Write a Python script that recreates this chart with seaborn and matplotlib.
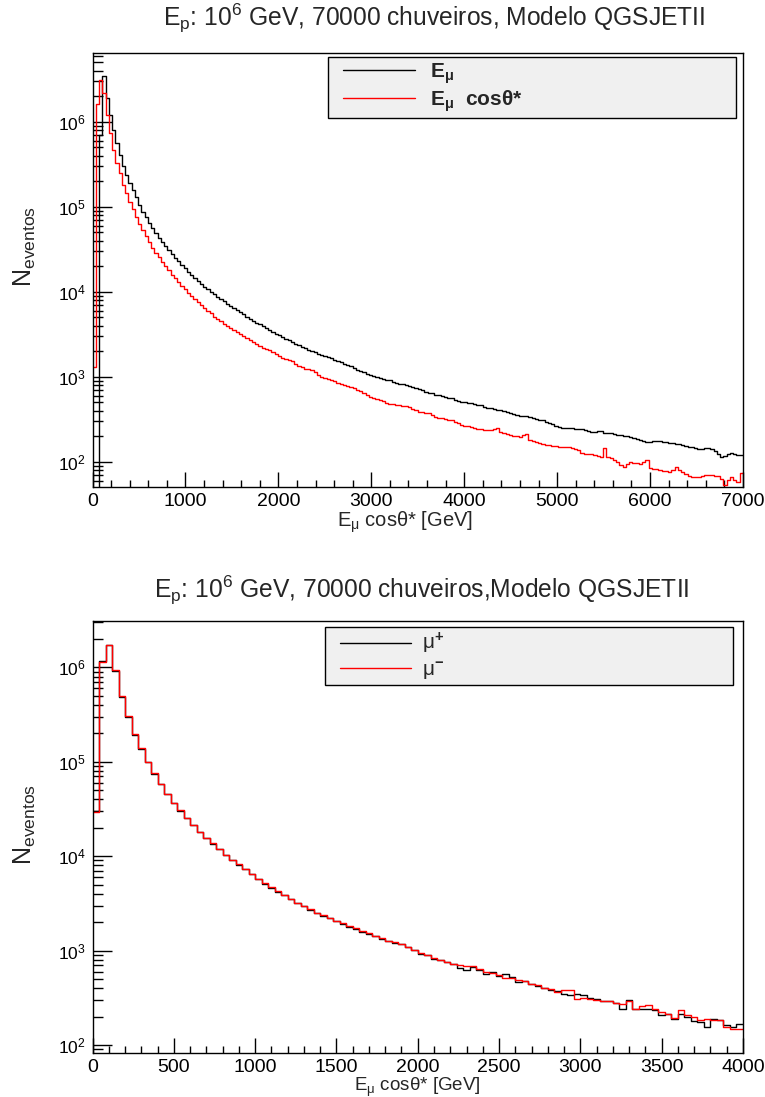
import numpy as np
import pandas as pd
import matplotlib
matplotlib.use("Agg")
import matplotlib.pyplot as plt
from matplotlib.lines import Line2D
from matplotlib.legend_handler import HandlerLine2D
from matplotlib.ticker import MultipleLocator, LogLocator, NullFormatter
import seaborn as sns

# ---------------- data (log10 of counts per bin) ----------------
top_range_gev = [0, 7000]
top_nbins = 200
top_log_emu = [
    1.0, 1.0, 5.843, 6.541, 6.282, 6.079, 5.902, 5.746, 5.608, 5.479,
    5.373, 5.282, 5.196, 5.111, 5.020, 4.941, 4.882, 4.812, 4.746, 4.694,
    4.635, 4.588, 4.541, 4.491, 4.444, 4.400, 4.358, 4.314, 4.275, 4.235,
    4.196, 4.158, 4.126, 4.091, 4.059, 4.028, 4.000, 3.969, 3.934, 3.911,
    3.887, 3.859, 3.832, 3.812, 3.785, 3.758, 3.734, 3.706, 3.675, 3.655,
    3.632, 3.615, 3.596, 3.575, 3.552, 3.530, 3.508, 3.487, 3.468, 3.447,
    3.428, 3.407, 3.390, 3.368, 3.352, 3.335, 3.318, 3.303, 3.290, 3.270,
    3.256, 3.245, 3.228, 3.218, 3.200, 3.184, 3.170, 3.152, 3.138, 3.121,
    3.100, 3.082, 3.062, 3.050, 3.032, 3.024, 3.010, 2.995, 2.984, 2.975,
    2.962, 2.958, 2.942, 2.930, 2.918, 2.912, 2.898, 2.886, 2.880, 2.862,
    2.850, 2.842, 2.822, 2.812, 2.806, 2.790, 2.780, 2.770, 2.766, 2.748,
    2.746, 2.730, 2.712, 2.706, 2.700, 2.690, 2.688, 2.676, 2.672, 2.665,
    2.645, 2.636, 2.630, 2.620, 2.612, 2.607, 2.598, 2.586, 2.578, 2.562,
    2.550, 2.540, 2.532, 2.540, 2.528, 2.516, 2.500, 2.492, 2.488, 2.470,
    2.460, 2.440, 2.425, 2.406, 2.400, 2.398, 2.394, 2.392, 2.385, 2.380,
    2.382, 2.368, 2.360, 2.352, 2.350, 2.360, 2.366, 2.340, 2.336, 2.334,
    2.325, 2.318, 2.314, 2.305, 2.300, 2.294, 2.280, 2.262, 2.255, 2.248,
    2.236, 2.235, 2.240, 2.248, 2.246, 2.232, 2.228, 2.224, 2.220, 2.212,
    2.208, 2.200, 2.186, 2.176, 2.168, 2.155, 2.146, 2.150, 2.160, 2.158,
    2.150, 2.120, 2.090, 2.059, 2.070, 2.095, 2.099, 2.085, 2.080, 2.079,
]
top_log_emu_cos = [
    3.110, 6.205, 6.491, 6.334, 6.079, 5.863, 5.667, 5.511, 5.393, 5.255,
    5.157, 5.059, 4.969, 4.882, 4.793, 4.726, 4.655, 4.588, 4.518, 4.459,
    4.412, 4.353, 4.302, 4.255, 4.196, 4.158, 4.118, 4.067, 4.028, 3.988,
    3.949, 3.914, 3.875, 3.843, 3.804, 3.776, 3.746, 3.706, 3.675, 3.650,
    3.625, 3.598, 3.575, 3.550, 3.522, 3.500, 3.476, 3.452, 3.436, 3.410,
    3.385, 3.360, 3.342, 3.325, 3.310, 3.285, 3.262, 3.240, 3.222, 3.208,
    3.192, 3.180, 3.150, 3.125, 3.110, 3.095, 3.085, 3.075, 3.050, 3.020,
    3.002, 2.985, 2.972, 2.962, 2.945, 2.930, 2.915, 2.905, 2.895, 2.882,
    2.865, 2.845, 2.828, 2.806, 2.785, 2.766, 2.752, 2.740, 2.726, 2.710,
    2.692, 2.680, 2.676, 2.672, 2.667, 2.660, 2.650, 2.640, 2.622, 2.605,
    2.590, 2.582, 2.576, 2.570, 2.548, 2.530, 2.512, 2.508, 2.500, 2.494,
    2.490, 2.470, 2.450, 2.432, 2.425, 2.418, 2.412, 2.400, 2.390, 2.382,
    2.378, 2.375, 2.373, 2.382, 2.393, 2.355, 2.340, 2.326, 2.314, 2.305,
    2.298, 2.294, 2.310, 2.322, 2.258, 2.244, 2.230, 2.218, 2.210, 2.202,
    2.196, 2.190, 2.184, 2.176, 2.172, 2.170, 2.169, 2.160, 2.150, 2.138,
    2.100, 2.096, 2.092, 2.090, 2.080, 2.068, 2.060, 2.158, 2.060, 2.040,
    2.020, 1.995, 1.965, 1.942, 1.970, 2.000, 1.990, 1.980, 1.972, 2.000,
    2.020, 1.925, 1.918, 1.910, 1.902, 1.895, 1.888, 1.882, 1.900, 1.941,
    1.905, 1.880, 1.850, 1.826, 1.824, 1.825, 1.824, 1.830, 1.840, 1.843,
    1.840, 1.835, 1.831, 1.800, 1.726, 1.790, 1.824, 1.790, 1.760, 1.863,
]

bot_range_gev = [0, 4000]
bot_nbins = 100
bot_log_mu_plus = [
    4.477, 6.067, 6.237, 5.965, 5.689, 5.477, 5.286, 5.138, 4.996, 4.873,
    4.763, 4.657, 4.565, 4.481, 4.399, 4.329, 4.254, 4.191, 4.131, 4.071,
    4.011, 3.958, 3.908, 3.859, 3.806, 3.756, 3.710, 3.668, 3.625, 3.587,
    3.544, 3.505, 3.470, 3.435, 3.399, 3.371, 3.343, 3.311, 3.283, 3.254,
    3.230, 3.201, 3.177, 3.152, 3.124, 3.099, 3.085, 3.067, 3.039, 3.004,
    2.968, 2.951, 2.915, 2.905, 2.880, 2.855, 2.816, 2.792, 2.827, 2.792,
    2.749, 2.774, 2.728, 2.749, 2.721, 2.668, 2.678, 2.650, 2.622, 2.604,
    2.585, 2.572, 2.544, 2.527, 2.537, 2.527, 2.502, 2.488, 2.466, 2.466,
    2.445, 2.385, 2.473, 2.385, 2.385, 2.385, 2.375, 2.314, 2.332, 2.279,
    2.325, 2.297, 2.254, 2.244, 2.191, 2.279, 2.269, 2.208, 2.191, 2.219,
]
bot_log_mu_minus = [
    4.470, 6.062, 6.240, 5.968, 5.692, 5.480, 5.289, 5.141, 4.999, 4.876,
    4.766, 4.660, 4.568, 4.484, 4.402, 4.333, 4.258, 4.195, 4.135, 4.075,
    4.015, 3.962, 3.912, 3.863, 3.810, 3.760, 3.714, 3.672, 3.629, 3.591,
    3.548, 3.509, 3.474, 3.439, 3.403, 3.375, 3.347, 3.315, 3.287, 3.258,
    3.234, 3.205, 3.181, 3.156, 3.128, 3.103, 3.089, 3.071, 3.043, 3.008,
    2.979, 2.951, 2.926, 2.905, 2.880, 2.855, 2.845, 2.837, 2.837, 2.809,
    2.774, 2.767, 2.739, 2.714, 2.707, 2.686, 2.678, 2.650, 2.633, 2.608,
    2.590, 2.562, 2.580, 2.587, 2.491, 2.498, 2.491, 2.481, 2.466, 2.466,
    2.445, 2.438, 2.466, 2.385, 2.410, 2.428, 2.385, 2.350, 2.332, 2.286,
    2.367, 2.314, 2.297, 2.261, 2.272, 2.269, 2.269, 2.191, 2.173, 2.173,
]

top_title = r"E$_\mathregular{p}$: 10$^\mathregular{6}$ GeV, 70000 chuveiros, Modelo QGSJETII"
bot_title = r"E$_\mathregular{p}$: 10$^\mathregular{6}$ GeV, 70000 chuveiros,Modelo QGSJETII"
x_label = r"E$_\mathregular{μ}$ cosθ* [GeV]"
y_label = r"N$_\mathregular{eventos}$"
top_legend_labels = [r"$\mathbf{E}_\mathregular{μ}$", r"$\mathbf{E}_\mathregular{μ}$  cosθ*"]
bot_legend_labels = [r"μ$^\mathbf{+}$", r"μ$^\mathbf{-}$"]

# ---------------- style ----------------
sns.set_style("ticks")
plt.rcParams.update({
    "font.family": ["Liberation Sans", "DejaVu Sans"],
    "mathtext.fontset": "custom",
    "mathtext.rm": "Liberation Sans",
    "mathtext.it": "Liberation Sans",
    "mathtext.bf": "Liberation Sans:bold",
    "axes.linewidth": 1.0,
    "axes.edgecolor": "black",
})

W, H = 765, 1097
fig = plt.figure(figsize=(W / 100, H / 100), dpi=100)
fig.patch.set_facecolor("white")


def fx(px):
    return px / W


def fy(py):
    return 1 - py / H


ax1 = fig.add_axes([fx(92.5), fy(487), fx(743) - fx(92.5), fy(52.7) - fy(487)])
ax2 = fig.add_axes([fx(92.5), fy(1053), fx(743) - fx(92.5), fy(621) - fy(1053)])


def draw_hist(ax, lo, hi, nb, logvals, color):
    width = (hi - lo) / nb
    centers = lo + width * (np.arange(nb) + 0.5)
    df = pd.DataFrame({"energy": centers, "count": np.power(10.0, np.asarray(logvals))})
    sns.histplot(data=df, x="energy", weights="count", bins=nb, binrange=(lo, hi),
                 element="step", fill=False, color=color, linewidth=1.0, ax=ax)


draw_hist(ax1, *top_range_gev, top_nbins, top_log_emu, "black")
draw_hist(ax1, *top_range_gev, top_nbins, top_log_emu_cos, "#ff0000")
draw_hist(ax2, *bot_range_gev, bot_nbins, bot_log_mu_plus, "black")
draw_hist(ax2, *bot_range_gev, bot_nbins, bot_log_mu_minus, "#ff0000")

for ax, xr, maj, mnr, ylim in (
    (ax1, top_range_gev, 1000, 200, (10 ** 1.702, 10 ** 6.812)),
    (ax2, bot_range_gev, 500, 100, (10 ** 1.915, 10 ** 6.491)),
):
    ax.set_yscale("log")
    ax.set_xlim(*xr)
    ax.set_ylim(*ylim)
    ax.xaxis.set_major_locator(MultipleLocator(maj))
    ax.xaxis.set_minor_locator(MultipleLocator(mnr))
    ax.yaxis.set_major_locator(LogLocator(base=10, numticks=20))
    ax.yaxis.set_minor_locator(LogLocator(base=10, subs=np.arange(2, 10), numticks=20))
    ax.yaxis.set_minor_formatter(NullFormatter())
    ax.tick_params(axis="both", which="both", direction="in", top=False, right=False,
                   colors="black", width=1.0)
    ax.tick_params(axis="y", which="major", length=13.7, labelsize=12.5, pad=5)
    ax.tick_params(axis="y", which="minor", length=7.2)
    ax.tick_params(axis="x", which="major", length=10.8, labelsize=14, pad=4)
    ax.tick_params(axis="x", which="minor", length=5.3)
    ax.set_facecolor("white")
    for s in ax.spines.values():
        s.set_visible(True)
        s.set_color("black")
        s.set_linewidth(1.0)
    ax.set_ylabel(y_label, fontsize=18, rotation=90, va="center", ha="center")

ax1.set_xlabel(x_label, fontsize=14.5, va="top")
ax2.set_xlabel(x_label, fontsize=13.5, va="top")
ax1.xaxis.set_label_coords((405 - 92.5) / 650.5, (487 - 509) / 434.3)
ax1.yaxis.set_label_coords((25 - 92.5) / 650.5, (487 - 247) / 434.3)
ax2.xaxis.set_label_coords((417 - 92.5) / 650.5, (1053 - 1075.5) / 432.0)
ax2.yaxis.set_label_coords((25 - 92.5) / 650.5, (1053 - 825) / 432.0)

fig.text(fx(434), fy(18), top_title, ha="center", va="center", fontsize=17.7)
fig.text(fx(421), fy(590), bot_title, ha="center", va="center", fontsize=17.7)

fs_px = 15 * 100 / 72


def add_legend(ax, labels, box, line_x, text_x, bold):
    x0, y0, x1, y1 = box
    bp = 0.2
    handles = [Line2D([], [], color="black", lw=1.0), Line2D([], [], color="#ff0000", lw=1.0)]
    xpad = (line_x[0] - x0) / fs_px - bp
    hlen = (line_x[1] - x0) / fs_px - bp
    leg = ax.legend(handles, labels, loc="upper left",
                    bbox_to_anchor=(fx(x0), fy(y1), fx(x1) - fx(x0), fy(y0) - fy(y1)),
                    bbox_transform=fig.transFigure, mode="expand", borderaxespad=0,
                    fancybox=False, shadow=False, frameon=True, framealpha=1,
                    edgecolor="black", facecolor="#f0f0f0",
                    prop={"size": 15, "weight": "bold" if bold else "normal"},
                    handlelength=hlen, handletextpad=(text_x - line_x[1]) / fs_px,
                    labelspacing=0.12, borderpad=bp,
                    handler_map={Line2D: HandlerLine2D(xpad=xpad)})
    leg.get_frame().set_linewidth(1.0)
    return leg


add_legend(ax1, top_legend_labels, (328, 57, 736, 114), (343, 415), 430, True)
add_legend(ax2, bot_legend_labels, (325, 627, 733, 681), (340, 411), 422, False)

fig.savefig("out.png", dpi=100, facecolor="white")
